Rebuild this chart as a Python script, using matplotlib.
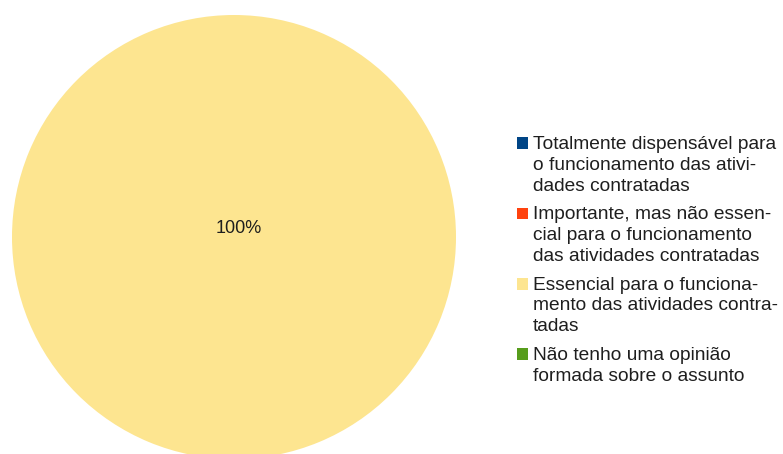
import matplotlib
matplotlib.use("Agg")
import matplotlib.pyplot as plt
from matplotlib.patches import Patch

# Survey answers and the share of respondents for each
categories = [
    "Totalmente dispensável para\no funcionamento das ativi-\ndades contratadas",
    "Importante, mas não essen-\ncial para o funcionamento\ndas atividades contratadas",
    "Essencial para o funciona-\nmento das atividades contra-\ntadas",
    "Não tenho uma opinião\nformada sobre o assunto",
]
values = [0, 0, 100, 0]
colors = ["#004586", "#ff420e", "#fde590", "#579d1c"]

plt.rcParams["font.family"] = ["Liberation Sans", "DejaVu Sans"]

W, H = 783, 454
fig = plt.figure(figsize=(W / 100, H / 100), dpi=100)

# Pie axes placed in pixel terms; the circle runs past the bottom edge
cx, cy, r = 234, 237, 222
ax = fig.add_axes([(cx - r) / W, (H - cy - r) / H, 2 * r / W, 2 * r / H])


def pct_label(p):
    return f"{p:.0f}%" if p > 0 else ""


wedges, texts, autotexts = ax.pie(
    values,
    colors=colors,
    startangle=90,
    counterclock=False,
    autopct=pct_label,
    pctdistance=0.0,
    textprops={"fontsize": 13, "color": "#1e1e1e"},
)
for t in autotexts:
    t.set_position((0.02, 0.04))
ax.set_xlim(-1, 1)
ax.set_ylim(-1, 1)
ax.set_aspect("equal")

fs = 13.75
handles = [Patch(facecolor=c, edgecolor="none") for c in colors]
leg = fig.legend(
    handles,
    categories,
    loc="upper left",
    bbox_to_anchor=(517 / W, 1 - 136 / H),
    frameon=False,
    fontsize=fs,
    handlelength=0.57,
    handleheight=0.57,
    handletextpad=0.28,
    labelspacing=0.6,
    borderpad=0,
    borderaxespad=0,
)
for t in leg.get_texts():
    t.set_linespacing(1.3)
    t.set_color("#1e1e1e")

# Sit each swatch on the baseline of the first line of its label
fig.canvas.draw()
rend = fig.canvas.get_renderer()
for patch, text in zip(leg.legend_handles, leg.get_texts()):
    props = text.get_fontproperties()
    _, lp_h, lp_d = rend.get_text_width_height_descent("lp", props, ismath=False)
    first = text.get_text().split("\n")[0]
    _, h, d = rend.get_text_width_height_descent(first, props, ismath=False)
    h, d = max(h, lp_h), max(d, lp_d)
    baseline = text.get_window_extent(rend).y1 - (h - d)
    pb = patch.get_window_extent(rend)
    patch.set_y(patch.get_y() + (baseline - pb.y0) * 72 / fig.dpi)

fig.savefig("out.png", dpi=100)
